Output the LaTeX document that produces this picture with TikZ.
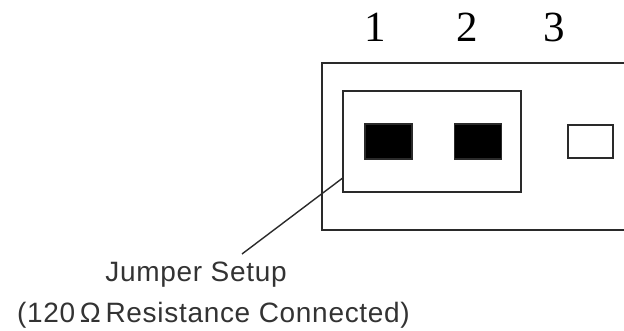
\documentclass[tikz,border=0pt]{standalone}
\usepackage{fontspec}
\setmainfont{Liberation Serif}
\newfontfamily\lblfont[LetterSpace=2.5]{Liberation Sans}
\definecolor{linegray}{HTML}{2A2A2A}
\definecolor{txtgray}{HTML}{333333}
\begin{document}
\begin{tikzpicture}[x=1pt,y=-1pt,
  frame/.style={draw=linegray,line width=1.8pt},
  pad/.style={draw=linegray,line width=1.5pt,inner sep=0pt,minimum width=47pt,minimum height=35pt},
  pinnum/.style={inner sep=0pt,anchor=base,font=\fontsize{43}{43}\selectfont},
  lbl/.style={inner sep=0pt,anchor=base,text=txtgray,font=\lblfont\fontsize{28}{28}\selectfont},
  leader/.style={draw=linegray,line width=1.4pt}]
\useasboundingbox (0,0) rectangle (624,331);
% outer header outline (right side runs past the edge)
\draw[frame] (630,63.3) -- (322.3,63.3) -- (322.3,230) -- (630,230);
% jumper outline
\node[frame,inner sep=0pt,minimum width=178pt,minimum height=101pt] (jumper) at (431.7,141.2) {};
% pins
\node[pad,fill=black] (p1) at (388.5,141.5) {};
\node[pad,fill=black] (p2) at (478,141.5) {};
\node[pad,fill=white,minimum width=45pt,minimum height=33pt] (p3) at (590.5,141.5) {};
% pin numbers
\node[pinnum] (n1) at (375,42) {1};
\node[pinnum] (n2) at (467,42) {2};
\node[pinnum] (n3) at (554,42) {3};
% labels
\node[lbl] (l1) at (196,281) {Jumper Setup};
\node[lbl] (l2) at (213.5,322) {(120\,Ω\,Resistance Connected)};
% leader
\coordinate (ls) at (342.7,178);
\coordinate (le) at (242,254);
\draw[leader] (ls) -- (le);
\end{tikzpicture}
\end{document}
